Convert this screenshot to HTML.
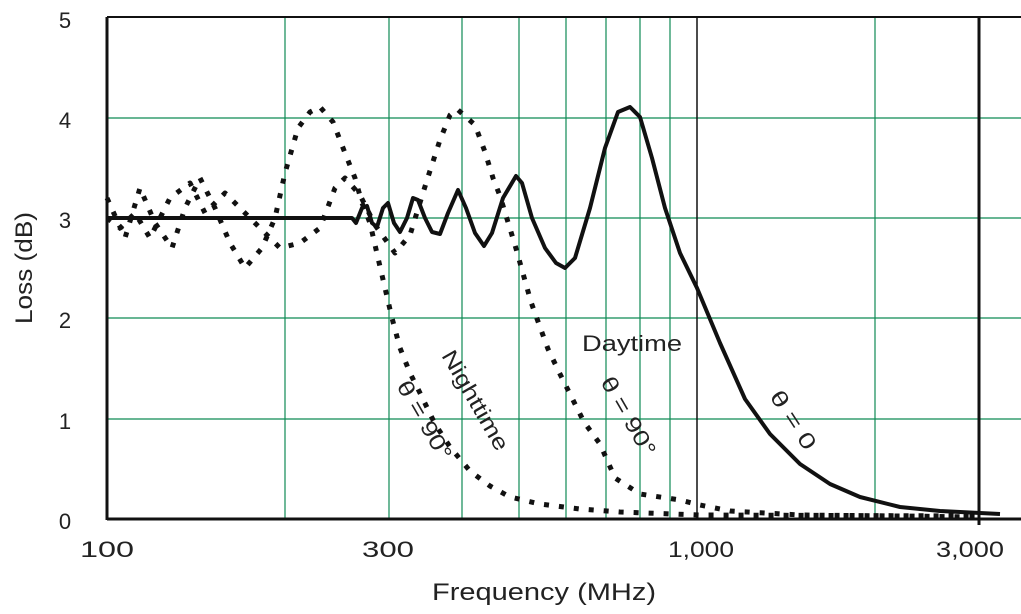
<!DOCTYPE html>
<html><head><meta charset="utf-8"><style>
html,body{margin:0;padding:0;background:#fff;}
svg{display:block;font-family:"Liberation Sans",sans-serif;}
</style></head><body>
<svg width="1021" height="614" viewBox="0 0 1021 614" xmlns="http://www.w3.org/2000/svg">
<g stroke="#0f8a55" stroke-width="1.2">
<line x1="285" y1="17" x2="285" y2="519"/>
<line x1="389" y1="17" x2="389" y2="519"/>
<line x1="462" y1="17" x2="462" y2="519"/>
<line x1="519" y1="17" x2="519" y2="519"/>
<line x1="566" y1="17" x2="566" y2="519"/>
<line x1="606" y1="17" x2="606" y2="519"/>
<line x1="640" y1="17" x2="640" y2="519"/>
<line x1="670" y1="17" x2="670" y2="519"/>
<line x1="875" y1="17" x2="875" y2="519"/>
<line x1="107" y1="118" x2="1021" y2="118"/>
<line x1="107" y1="218" x2="1021" y2="218"/>
<line x1="107" y1="318" x2="1021" y2="318"/>
<line x1="107" y1="419" x2="1021" y2="419"/>
</g>
<line x1="107" y1="17" x2="1021" y2="17" stroke="#111" stroke-width="2"/>
<line x1="697" y1="17" x2="697" y2="519" stroke="#111" stroke-width="1.5"/>
<line x1="979" y1="17" x2="979" y2="525" stroke="#111" stroke-width="3"/>
<line x1="107" y1="17" x2="107" y2="520" stroke="#111" stroke-width="3"/>
<line x1="107" y1="519" x2="1021" y2="519" stroke="#111" stroke-width="3"/>
<g fill="#222" font-size="22">
<text x="65" y="28" text-anchor="middle">5</text>
<text x="65" y="128" text-anchor="middle">4</text>
<text x="65" y="228" text-anchor="middle">3</text>
<text x="65" y="328" text-anchor="middle">2</text>
<text x="65" y="429" text-anchor="middle">1</text>
<text x="65" y="529" text-anchor="middle">0</text>
<text x="80" y="557" textLength="54" lengthAdjust="spacingAndGlyphs">100</text>
<text x="362" y="557" textLength="52" lengthAdjust="spacingAndGlyphs">300</text>
<text x="668" y="557" textLength="66" lengthAdjust="spacingAndGlyphs">1,000</text>
<text x="936" y="557" textLength="68" lengthAdjust="spacingAndGlyphs">3,000</text>
<text x="432" y="600" font-size="24" textLength="224" lengthAdjust="spacingAndGlyphs">Frequency (MHz)</text>
<text transform="translate(32,268) rotate(-90)" text-anchor="middle" font-size="24" textLength="112" lengthAdjust="spacingAndGlyphs">Loss (dB)</text>
<text x="582" y="351" textLength="100" lengthAdjust="spacingAndGlyphs">Daytime</text>
<text transform="translate(469,404) rotate(60)" text-anchor="middle" textLength="112" lengthAdjust="spacingAndGlyphs">Nighttime</text>
<text transform="translate(418,424) rotate(60)" text-anchor="middle" textLength="88" lengthAdjust="spacingAndGlyphs">θ = 90°</text>
<text transform="translate(622,420) rotate(60)" text-anchor="middle" textLength="88" lengthAdjust="spacingAndGlyphs">θ = 90°</text>
<text transform="translate(787,424) rotate(57)" text-anchor="middle" textLength="66" lengthAdjust="spacingAndGlyphs">θ = 0</text>
</g>
<g fill="none" stroke="#111" stroke-linejoin="round">
<polyline stroke-width="4" points="107,218 352,218 356,223 362,208 367,206 372,223 377,227 383,208 388,203 394,223 400,232 407,218 413,198 418,200 425,218 432,232 440,234 448,213 458,190 466,208 475,233 484,246 492,233 503,198 516,176 522,183 532,218 545,248 556,263 565,268 575,258 590,208 605,148 618,112 630,107 640,117 652,158 665,208 680,253 697,288 720,343 745,399 770,434 800,464 830,484 860,497 900,507 940,511 1000,514"/>
<polyline stroke-width="5" stroke-dasharray="5 10" points="107,198 125,238 140,188 155,223 172,248 185,208 200,178 215,208 230,243 245,268 262,248 275,218 285,173 298,128 310,112 320,107 333,122 345,153 355,178 362,203 370,223 378,258 385,288 392,318 400,348 410,373 420,393 435,424 450,447 470,471 490,486 510,497 540,504 580,509 620,512 700,515 979,516"/>
<polyline stroke-width="5" stroke-dasharray="5 10" points="107,218 120,228 135,213 150,238 170,198 190,183 205,213 225,193 240,208 260,228 280,248 300,243 320,228 335,188 345,178 360,195 375,225 395,253 410,235 427,180 440,140 450,115 457,109 475,125 485,152 493,178 500,196 515,245 531,302 540,327 548,349 560,374 572,398 584,422 600,444 615,478 640,494 680,500 700,505 730,511 800,515 900,516 979,517"/>
</g>
</svg>
</body></html>
